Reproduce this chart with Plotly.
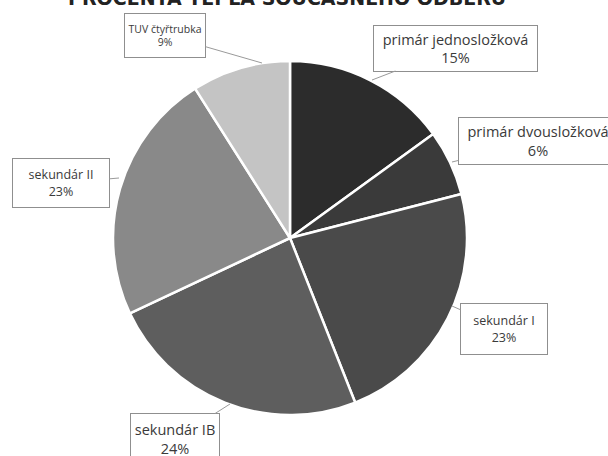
import plotly.graph_objects as go

labels = ["primár jednosložková", "primár dvousložková", "sekundár I",
          "sekundár IB", "sekundár II", "TUV čtyřtrubka"]
values = [15, 6, 23, 24, 23, 9]
colors = ["#2c2c2c", "#3a3a3a", "#4a4a4a", "#5e5e5e", "#898989", "#c4c4c4"]
title_text = "PROCENTA TEPLA SOUČASNÉHO ODBĚRU"

W, H = 608, 456
cx, cy, r = 290, 238, 177

fig = go.Figure(go.Pie(
    labels=labels, values=values, sort=False, direction="clockwise",
    rotation=0, textinfo="none", hoverinfo="label+percent",
    marker=dict(colors=colors, line=dict(color="white", width=2.5)),
    domain=dict(x=[(cx - r) / W, (cx + r) / W], y=[1 - (cy + r) / H, 1 - (cy - r) / H]),
    showlegend=False,
))

# label box: centre x, centre y, box w, box h, font size, pointer target x, y (px)
boxes = [
    (455, 48, 165, 47, 14.5, 372, 80),
    (538, 141, 160, 48, 14.5, 452, 162),
    (504, 329, 88, 52, 12.5, 452, 306),
    (175, 439, 90, 52, 14.5, 230, 404),
    (61, 183, 98, 50, 12.5, 119, 178),
    (165, 35, 82, 45, 10.5, 262, 63),
]
total = sum(values)
pad = 3
for lab, v, (bx, by, bw, bh, fs, tx, ty) in zip(labels, values, boxes):
    fig.add_annotation(
        x=tx / W, y=1 - ty / H, xref="paper", yref="paper",
        ax=bx - tx, ay=by - ty, axref="pixel", ayref="pixel",
        text=f"{lab}<br>{round(100 * v / total)}%",
        showarrow=True, arrowhead=0, arrowwidth=1, arrowcolor="#9a9a9a",
        font=dict(family="Open Sans", size=fs, color="#3a3a3a"),
        width=bw - 2 * pad - 2, height=bh - 2 * pad - 2,
        bordercolor="#8f8f8f", borderwidth=1, borderpad=pad, bgcolor="white",
        align="center", valign="middle",
    )

fig.add_annotation(
    x=0.472, y=1 - 11 / H, xref="paper", yref="paper", xanchor="center", yanchor="bottom",
    text=f"<b>{title_text}</b>", showarrow=False,
    font=dict(family="DejaVu Sans", size=19, color="#222222"),
)

fig.update_layout(
    width=W, height=H, margin=dict(l=0, r=0, t=0, b=0),
    paper_bgcolor="white", plot_bgcolor="white",
)
fig.write_html("out.html", config={"displayModeBar": False},
               post_script="document.body.style.margin='0';")
